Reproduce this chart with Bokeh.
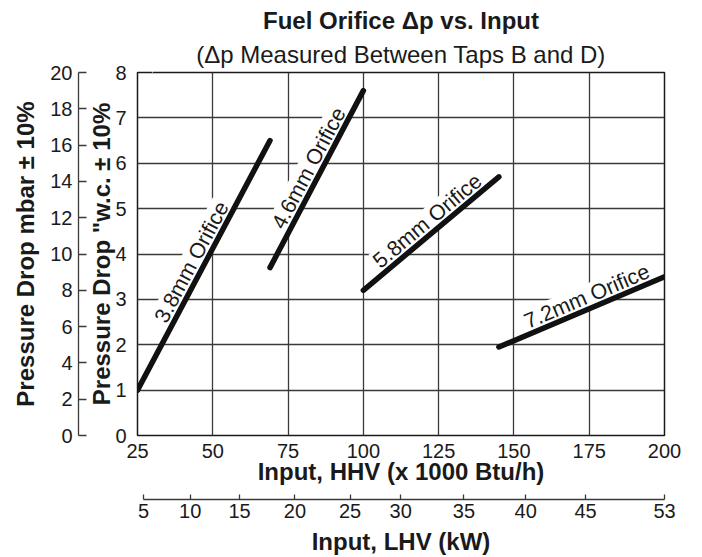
import math
from bokeh.plotting import figure
from bokeh.models import LinearAxis, Range1d, FixedTicker, Title, ColumnDataSource
from bokeh.core.properties import value
from bokeh.embed import file_html
from bokeh.resources import INLINE

# ---------------- data ----------------
title_text = "Fuel Orifice \u0394p vs. Input"
subtitle_text = "(\u0394p Measured Between Taps B and D)"

orifice_labels = ["3.8mm Orifice", "4.6mm Orifice", "5.8mm Orifice", "7.2mm Orifice"]
input_start = [25, 69, 100, 145]       # x 1000 Btu/h (HHV)
input_end = [69, 100, 145, 200]
dp_start = [1.0, 3.7, 3.2, 1.95]       # "w.c.
dp_end = [6.5, 7.6, 5.7, 3.5]

hhv_ticks = [25, 50, 75, 100, 125, 150, 175, 200]
wc_ticks = [0, 1, 2, 3, 4, 5, 6, 7, 8]
mbar_ticks = [0, 2, 4, 6, 8, 10, 12, 14, 16, 18, 20]
lhv_labels = ["5", "10", "15", "20", "25", "30", "35", "40", "45", "53"]
lhv_at_hhv = [27.0, 42.5, 58.9, 77.3, 95.6, 112.4, 133.4, 153.9, 173.8, 200.0]

# ---------------- layout / style ----------------
W, H = 702, 557
BL, BR, BT, BB = 137, 38, 40, 119
FONT = "Liberation Sans"
INK = "#1a1a1a"
GRID = "#3a3a3a"
label_frac = [0.49, 0.53, 0.53, 0.56]

p = figure(width=W, height=H, x_range=Range1d(25, 200), y_range=Range1d(0, 8),
           output_backend="svg", toolbar_location=None, title=None,
           min_border_left=BL, min_border_right=BR, min_border_top=BT, min_border_bottom=BB,
           background_fill_color="white", border_fill_color="white")
p.extra_y_ranges = {"mbar": Range1d(0, 20)}

p.outline_line_color = INK
p.outline_line_width = 1.5

p.xgrid.ticker = FixedTicker(ticks=hhv_ticks)
p.ygrid.ticker = FixedTicker(ticks=wc_ticks)
for g in (p.xgrid, p.ygrid):
    g.grid_line_color = GRID
    g.grid_line_width = 1.3

def style_axis(ax, label_size="20px", title_size="24px"):
    ax.major_label_text_font = FONT
    ax.major_label_text_font_size = label_size
    ax.major_label_text_color = INK
    ax.axis_label_text_font = FONT
    ax.axis_label_text_font_size = title_size
    ax.axis_label_text_font_style = "bold"
    ax.axis_label_text_color = INK
    ax.minor_tick_line_color = None
    ax.axis_line_color = GRID
    ax.major_tick_line_color = GRID
    ax.axis_line_width = 1.3
    ax.major_tick_line_width = 1.3

# main x axis (HHV)
xa = p.xaxis[0]
style_axis(xa)
xa.ticker = FixedTicker(ticks=hhv_ticks)
xa.axis_line_color = None
xa.major_tick_in = 0
xa.major_tick_out = 0
xa.major_label_standoff = 8
xa.axis_label = "Input, HHV (x 1000 Btu/h)"
xa.axis_label_standoff = -3

# main y axis ("w.c.)
ya = p.yaxis[0]
style_axis(ya)
ya.ticker = FixedTicker(ticks=wc_ticks)
ya.axis_line_color = None
ya.major_tick_in = 0
ya.major_tick_out = 0
ya.major_label_standoff = 11
ya.axis_label = "Pressure Drop \"w.c. \u00b1 10%"
ya.axis_label_standoff = -3

# spacer axes: a single white, out-of-the-way tick that only reserves room
def spacer(n, where, **kw):
    return LinearAxis(ticker=FixedTicker(ticks=[where]), major_tick_out=n, major_tick_in=0,
                      major_label_standoff=0, axis_line_color=None,
                      major_tick_line_color="white", major_label_text_color="white",
                      major_label_text_font_size="1px", minor_tick_line_color=None, **kw)

p.add_layout(spacer(3, 7.6), "left")

# mbar axis
ma = LinearAxis(y_range_name="mbar", ticker=FixedTicker(ticks=mbar_ticks),
                axis_label="Pressure Drop mbar \u00b1 10%")
style_axis(ma)
ma.major_tick_in = 8
ma.major_tick_out = 0
ma.major_label_standoff = 6
ma.axis_label_standoff = 8
p.add_layout(ma, "left")

p.add_layout(spacer(8, 190), "below")

# LHV axis
la = LinearAxis(ticker=FixedTicker(ticks=lhv_at_hhv), axis_label="Input, LHV (kW)",
                major_label_overrides={float(k): v for k, v in zip(lhv_at_hhv, lhv_labels)},
                bounds=(lhv_at_hhv[0], lhv_at_hhv[-1]))
style_axis(la)
la.major_tick_in = 5
la.major_tick_out = 0
la.major_label_standoff = 4
la.axis_label_standoff = 7
p.add_layout(la, "below")

# titles (spacer closest to the frame, then subtitle, then title)
p.add_layout(spacer(1, 30), "above")
p.add_layout(Title(text=subtitle_text, align="center", text_font=FONT, text_font_size="24px",
                   text_font_style="normal", text_color=INK, standoff=0), "above")
p.add_layout(Title(text=title_text, align="center", text_font=FONT, text_font_size="24px",
                   text_font_style="bold", text_color=INK, standoff=9), "above")

# ---------------- curves ----------------
FW_est, FH_est = 527, 362
sx = FW_est / (200 - 25)
sy = FH_est / 8.0
lx, ly, ang = [], [], []
for i in range(len(orifice_labels)):
    t = label_frac[i]
    lx.append(input_start[i] + t * (input_end[i] - input_start[i]))
    ly.append(dp_start[i] + t * (dp_end[i] - dp_start[i]))
    ang.append(math.atan2((dp_end[i] - dp_start[i]) * sy, (input_end[i] - input_start[i]) * sx))

lab_src = ColumnDataSource(dict(x=lx, y=ly, text=orifice_labels, angle=ang))
p.text(x="x", y="y", text="text", angle="angle", source=lab_src,
       text_align="center", text_baseline="bottom", text_font=value(FONT),
       text_font_size="21.5px", text_color=INK, background_fill_color="white")

seg_src = ColumnDataSource(dict(x0=input_start, y0=dp_start, x1=input_end, y1=dp_end))
p.segment(x0="x0", y0="y0", x1="x1", y1="y1", source=seg_src,
          line_color="#111111", line_width=5.5, line_cap="round")

open("out.html", "w").write(file_html(p, INLINE))
